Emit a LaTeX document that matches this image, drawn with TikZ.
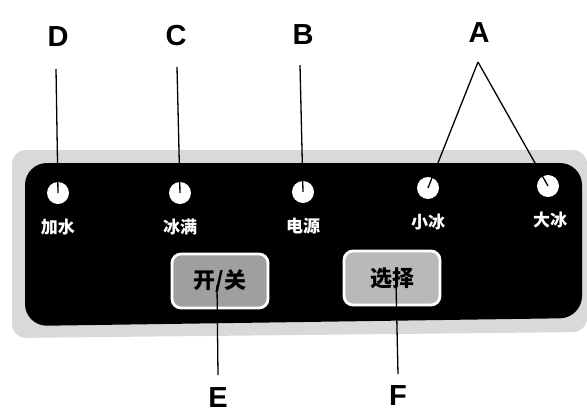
\documentclass[tikz,border=0pt]{standalone}
\usepackage{fontspec}
\setmainfont{Liberation Sans}
\newfontfamily\cjk{Noto Sans CJK SC}
\usetikzlibrary{calc}
\tikzset{
  letter/.style={font=\fontsize{29}{32}\selectfont\bfseries, inner sep=0pt},
  lamp/.style={circle, fill=white, minimum size=22pt, inner sep=0pt},
  lamplabel/.style={font=\cjk\fontsize{17}{19}\selectfont\bfseries, text=white, inner sep=0pt},
  button/.style={rounded corners=9pt, draw=white, line width=2.8pt, minimum width=96pt, minimum height=54pt, font=\cjk\fontsize{22}{24}\selectfont\bfseries, text=black},
  leader/.style={draw=black, line width=1.3pt},
}
\begin{document}
\begin{tikzpicture}[x=1pt,y=-1pt]
\useasboundingbox (0,0) rectangle (587,418);
% gray surround
\fill[gray!30, rounded corners=14pt] (12,150) -- (587,150) -- (587,332) -- (12,338) -- cycle;
% black panel
\fill[black, rounded corners=22pt] (25,163) -- (582,163) -- (582,318) -- (25,326) -- cycle;
% lamps
\node[lamp] (l1) at (58,193) {};
\node[lamp] (l2) at (180,193) {};
\node[lamp] (l3) at (303,192) {};
\node[lamp] (l4) at (428,188) {};
\node[lamp] (l5) at (548,186) {};
% lamp labels
\node[lamplabel] (t1) at (58,227) {加水};
\node[lamplabel] (t2) at (180,227) {冰满};
\node[lamplabel] (t3) at (303,226) {电源};
\node[lamplabel] (t4) at (428,222) {小冰};
\node[lamplabel] (t5) at (550,220) {大冰};
% buttons
\node[button, fill=gray!75] (b1) at (220,281) {开/关};
\node[button, fill=gray!55] (b2) at (392,278) {选择};
% letters
\node[letter] (D) at (58,37) {D};
\node[letter] (C) at (176,36) {C};
\node[letter] (B) at (303,35) {B};
\node[letter] (A) at (479,33) {A};
\node[letter] (E) at (218,398) {E};
\node[letter] (F) at (398,396) {F};
\coordinate (Aapex) at (478,62);
\coordinate (Dtop) at (56,69);
\coordinate (Ctop) at (177,67);
\coordinate (Btop) at (300,65);
\coordinate (Ebot) at (218,375);
\coordinate (Fbot) at (398,374);
% leaders
\draw[leader] (Dtop) -- (l1.center);
\draw[leader] (Ctop) -- (l2.center);
\draw[leader] (Btop) -- (l3.center);
\draw[leader] (Aapex) -- (l4.center);
\draw[leader] (Aapex) -- (l5.center);
\draw[leader] (b1.center) ++(-3,4) -- (Ebot);
\draw[leader] (b2.center) ++(4,5) -- (Fbot);
\end{tikzpicture}
\end{document}
